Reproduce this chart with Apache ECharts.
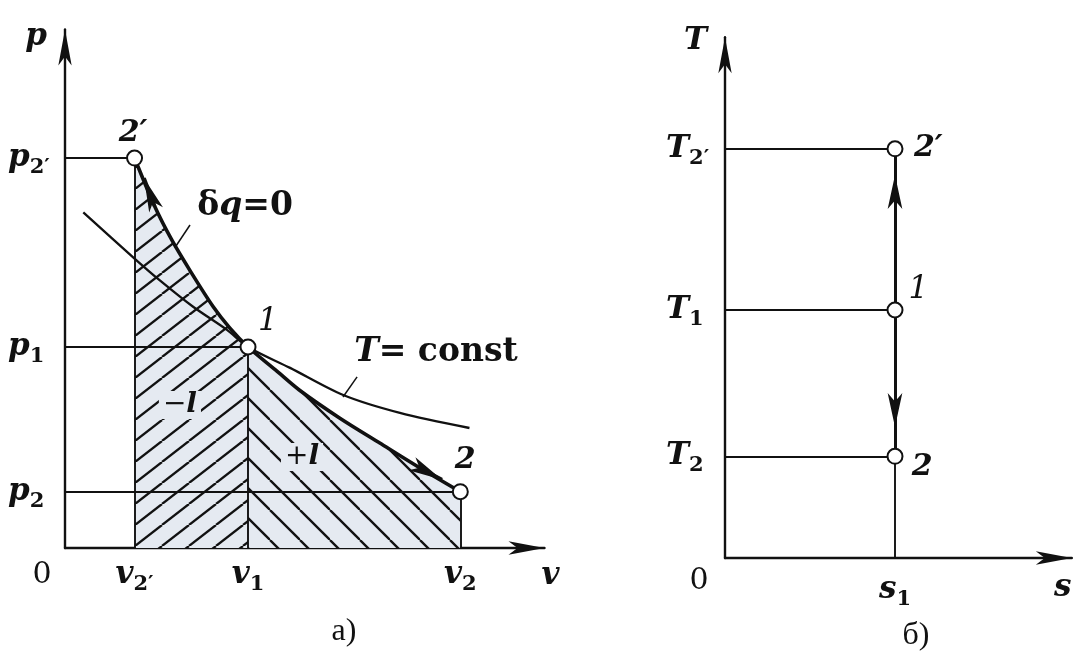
<!DOCTYPE html>
<html>
<head>
<meta charset="utf-8">
<script src="https://cdn.jsdelivr.net/npm/echarts@6/dist/echarts.min.js"></script>
<style>
  html, body { margin: 0; padding: 0; background: #ffffff; }
  #chart { width: 1089px; height: 654px; }
</style>
</head>
<body>
<div id="chart"></div>
<script>
// ---------- p–v diagram (а) ----------
// state values on the axes: 2', 1, 2
const vTicks = [0.38, 1.0, 2.16];
const pTicks = [1.94, 1.0, 0.28];
const stateSubs = ['2′', '1', '2'];
// adiabat δq = 0: 2' -> 1 and 1 -> 2
const adiabatUpper = [[0.38, 1.94], [0.49, 1.70], [0.585, 1.53], [0.69, 1.37], [0.81, 1.20], [0.90, 1.095], [1.0, 1.0]];
const adiabatLower = [[1.0, 1.0], [1.15, 0.886], [1.28, 0.786], [1.50, 0.647], [1.72, 0.522], [1.94, 0.398], [2.16, 0.28]];
// isotherm T = const through state 1
const isotherm = [[0.10, 1.67], [0.38, 1.44], [0.52, 1.33], [0.70, 1.20], [0.885, 1.085], [1.0, 1.0],
                  [1.23, 0.896], [1.52, 0.761], [1.83, 0.672], [2.21, 0.597]];
// arrowheads along the adiabat (segment start, arrowhead centre)
const pvArrows = [[[0.49, 1.70], [0.432, 1.84]], [[1.94, 0.398], [2.06, 0.34]]];
// leader lines from the curve captions
const pvLeaders = [[[0.683, 1.607], [0.601, 1.495]], [[1.596, 0.851], [1.519, 0.751]]];

// ---------- T–s diagram (б) ----------
const s1 = 1.0;
const TTicks = [1.65, 1.0, 0.41];
const tsArrows = [[[1.0, 1.0], [1.0, 1.544]], [[1.0, 1.0], [1.0, 0.528]]];

const INK = '#111111';
const FILL = '#e5eaf1';
const SERIF = 'DejaVu Serif';

function hatch(w, h, rising) {
  const c = document.createElement('canvas');
  c.width = w; c.height = h;
  const g = c.getContext('2d');
  g.fillStyle = FILL;
  g.fillRect(0, 0, w, h);
  g.strokeStyle = INK;
  g.lineWidth = 2.3;
  for (const dx of [-w, 0, w]) {
    g.beginPath();
    if (rising) { g.moveTo(dx, h); g.lineTo(dx + w, 0); }
    else { g.moveTo(dx, 0); g.lineTo(dx + w, h); }
    g.stroke();
  }
  return c;
}

const rich = {
  i: { fontFamily: SERIF, fontSize: 31, fontStyle: 'italic', fontWeight: 'bold', color: INK, lineHeight: 40 },
  s: { fontFamily: SERIF, fontSize: 21, fontWeight: 'bold', color: INK, lineHeight: 14, verticalAlign: 'bottom' },
  z: { fontFamily: SERIF, fontSize: 30, color: INK, lineHeight: 40, padding: [0, 46, 0, 0] },
  z2: { fontFamily: SERIF, fontSize: 30, color: INK, lineHeight: 22, padding: [0, 52, 0, 0] },
  n: { fontFamily: SERIF, fontSize: 33, fontWeight: 'bold', color: INK },
  m: { fontFamily: SERIF, fontSize: 33, fontStyle: 'italic', fontWeight: 'bold', color: INK },
  pt: { fontFamily: SERIF, fontSize: 30, fontStyle: 'italic', fontWeight: 'bold', color: INK },
  k: { fontFamily: SERIF, fontSize: 31, fontStyle: 'italic', color: INK },
  l: { fontFamily: SERIF, fontSize: 28, fontStyle: 'italic', fontWeight: 'bold', color: INK },
  o: { fontFamily: SERIF, fontSize: 28, color: INK }
};

function idx(list, v) { return list.findIndex(x => Math.abs(x - v) < 1e-9); }

function arrowAxisLine() {
  return {
    show: true,
    onZero: false,
    symbol: ['none', 'arrow'],
    symbolSize: [10, 36],
    lineStyle: { color: INK, width: 2.4 }
  };
}

const lineItems = pairs => pairs.map(c => ({ coords: c }));
// narrow arrowhead: [width, length] for the end symbol of a segment
const headSize = [[11, 34], [11, 34]];

const pvGuides = [
  [[0, pTicks[0]], [vTicks[0], pTicks[0]]],
  [[0, pTicks[1]], [vTicks[1], pTicks[1]]],
  [[0, pTicks[2]], [vTicks[2], pTicks[2]]],
  [[vTicks[0], 0], [vTicks[0], pTicks[0]]],
  [[vTicks[1], 0], [vTicks[1], pTicks[1]]],
  [[vTicks[2], 0], [vTicks[2], pTicks[2]]]
];
const tsGuides = TTicks.map(t => [[0, t], [s1, t]]).concat([[[s1, 0], [s1, TTicks[2]]]]);
const tsProcess = [[[s1, TTicks[2]], [s1, TTicks[0]]]];

const pvLabels = [
  { value: [0.372, 2.065], label: { formatter: '{pt|2′}' } },
  { value: [1.109, 1.124], label: { formatter: '{k|1}' } },
  { value: [2.186, 0.438], label: { formatter: '{pt|2}' } },
  { value: [0.984, 1.697], label: { formatter: '{n|δ}{m|q}{n|=0}' } },
  { value: [2.027, 0.975], label: { formatter: '{m|T}{n|= const}' } },
  { value: [0.628, 0.711], label: { formatter: '{o|−}{l|l}', backgroundColor: FILL, padding: [0, 4] } },
  { value: [1.295, 0.453], label: { formatter: '{o|+}{l|l}', backgroundColor: FILL, padding: [0, 4] } }
];
const tsLabels = [
  { value: [1.196, 1.653], label: { formatter: '{pt|2′}' } },
  { value: [1.137, 1.081], label: { formatter: '{k|1}' } },
  { value: [1.160, 0.367], label: { formatter: '{pt|2}' } }
];

const solid = { opacity: 1 };

const option = {
  animation: false,
  backgroundColor: '#ffffff',
  title: [
    { text: 'а)', left: 344, top: 616, textAlign: 'center', padding: 0,
      textStyle: { fontFamily: 'Liberation Serif', fontSize: 32, fontWeight: 'normal', color: INK } },
    { text: 'б)', left: 916, top: 620, textAlign: 'center', padding: 0,
      textStyle: { fontFamily: 'Liberation Serif', fontSize: 32, fontWeight: 'normal', color: INK } }
  ],
  grid: [
    { left: 65, top: 29.4, width: 479.5, height: 518.6, outerBoundsMode: 'none', containLabel: false },
    { left: 725, top: 37.2, width: 346.8, height: 520.8, outerBoundsMode: 'none', containLabel: false }
  ],
  xAxis: [
    {
      gridIndex: 0, type: 'value', min: 0, max: 2.62,
      axisLine: arrowAxisLine(), axisTick: { show: false }, splitLine: { show: false },
      axisLabel: {
        customValues: [0].concat(vTicks), margin: 7, verticalAlign: 'top', rich,
        formatter: v => v === 0 ? '{z|0}' : '{i|v}{s|' + stateSubs[idx(vTicks, v)] + '}'
      },
      name: 'v', nameLocation: 'end', nameGap: 6,
      nameTextStyle: { fontFamily: SERIF, fontSize: 31, fontStyle: 'italic', fontWeight: 'bold', color: INK,
        align: 'center', verticalAlign: 'top', lineHeight: 40, padding: [8, 0, 0, 0] }
    },
    {
      gridIndex: 1, type: 'value', min: 0, max: 2.04,
      axisLine: arrowAxisLine(), axisTick: { show: false }, splitLine: { show: false },
      axisLabel: {
        customValues: [0, s1], margin: 12, verticalAlign: 'top', rich,
        formatter: v => v === 0 ? '{z2|0}' : '{i|s}{s|1}'
      },
      name: 's', nameLocation: 'end', nameGap: -9,
      nameTextStyle: { fontFamily: SERIF, fontSize: 31, fontStyle: 'italic', fontWeight: 'bold', color: INK,
        align: 'center', verticalAlign: 'top', lineHeight: 40, padding: [10, 0, 0, 0] }
    }
  ],
  yAxis: [
    {
      gridIndex: 0, type: 'value', min: 0, max: 2.58,
      axisLine: arrowAxisLine(), axisTick: { show: false }, splitLine: { show: false },
      axisLabel: {
        customValues: pTicks, margin: 57, align: 'left', verticalAlign: 'middle', rich,
        formatter: v => '{i|p}{s|' + stateSubs[idx(pTicks, v)] + '}'
      },
      name: 'p', nameLocation: 'end', nameGap: -8,
      nameTextStyle: { fontFamily: SERIF, fontSize: 31, fontStyle: 'italic', fontWeight: 'bold', color: INK,
        align: 'right', verticalAlign: 'middle', padding: [0, 18, 0, 0] }
    },
    {
      gridIndex: 1, type: 'value', min: 0, max: 2.1,
      axisLine: arrowAxisLine(), axisTick: { show: false }, splitLine: { show: false },
      axisLabel: {
        customValues: TTicks, margin: 59, align: 'left', verticalAlign: 'middle', rich,
        formatter: v => '{i|T}{s|' + stateSubs[idx(TTicks, v)] + '}'
      },
      name: 'T', nameLocation: 'end', nameGap: -4,
      nameTextStyle: { fontFamily: SERIF, fontSize: 31, fontStyle: 'italic', fontWeight: 'bold', color: INK,
        align: 'right', verticalAlign: 'middle', padding: [0, 18, 0, 0] }
    }
  ],
  series: [
    // hatched work areas under the adiabat
    {
      type: 'line', xAxisIndex: 0, yAxisIndex: 0, z: 1, silent: true,
      data: adiabatUpper, smooth: 0.3, symbol: 'none',
      lineStyle: { width: 0 },
      areaStyle: { color: { image: hatch(27, 21, true), repeat: 'repeat' }, opacity: 1 }
    },
    {
      type: 'line', xAxisIndex: 0, yAxisIndex: 0, z: 1, silent: true,
      data: adiabatLower, smooth: 0.3, symbol: 'none',
      lineStyle: { width: 0 },
      areaStyle: { color: { image: hatch(30, 30, false), repeat: 'repeat' }, opacity: 1 }
    },
    // state guide lines
    {
      type: 'lines', coordinateSystem: 'cartesian2d', xAxisIndex: 0, yAxisIndex: 0, z: 3, silent: true,
      data: lineItems(pvGuides),
      lineStyle: { color: INK, width: 1.9, opacity: 1 }
    },
    // isotherm
    {
      type: 'line', xAxisIndex: 0, yAxisIndex: 0, z: 4, silent: true,
      data: isotherm, smooth: 0.3, symbol: 'none',
      lineStyle: { color: INK, width: 2.3 }
    },
    // adiabat
    {
      type: 'line', xAxisIndex: 0, yAxisIndex: 0, z: 5, silent: true,
      data: adiabatUpper.concat(adiabatLower.slice(1)), smooth: 0.3, symbol: 'none',
      lineStyle: { color: INK, width: 3.6 }
    },
    {
      type: 'lines', coordinateSystem: 'cartesian2d', xAxisIndex: 0, yAxisIndex: 0, z: 6, silent: true,
      data: lineItems(pvArrows), symbol: ['none', 'arrow'], symbolSize: headSize,
      lineStyle: { color: INK, width: 3.6, opacity: 1 }
    },
    {
      type: 'lines', coordinateSystem: 'cartesian2d', xAxisIndex: 0, yAxisIndex: 0, z: 6, silent: true,
      data: lineItems(pvLeaders),
      lineStyle: { color: INK, width: 1.5, opacity: 1 }
    },
    // states
    {
      type: 'scatter', xAxisIndex: 0, yAxisIndex: 0, z: 8, silent: true,
      data: vTicks.map((v, i) => [v, pTicks[i]]), symbol: 'circle', symbolSize: 15,
      itemStyle: { color: '#ffffff', borderColor: INK, borderWidth: 2, opacity: 1 }
    },
    {
      type: 'scatter', xAxisIndex: 0, yAxisIndex: 0, z: 9, silent: true,
      data: pvLabels, symbolSize: 0, itemStyle: solid,
      label: { show: true, position: 'inside', align: 'center', verticalAlign: 'middle', opacity: 1, rich }
    },

    // T–s diagram
    {
      type: 'lines', coordinateSystem: 'cartesian2d', xAxisIndex: 1, yAxisIndex: 1, z: 3, silent: true,
      data: lineItems(tsGuides),
      lineStyle: { color: INK, width: 1.9, opacity: 1 }
    },
    {
      type: 'lines', coordinateSystem: 'cartesian2d', xAxisIndex: 1, yAxisIndex: 1, z: 5, silent: true,
      data: lineItems(tsProcess),
      lineStyle: { color: INK, width: 3, opacity: 1 }
    },
    {
      type: 'lines', coordinateSystem: 'cartesian2d', xAxisIndex: 1, yAxisIndex: 1, z: 6, silent: true,
      data: lineItems(tsArrows), symbol: ['none', 'arrow'], symbolSize: headSize,
      lineStyle: { color: INK, width: 3, opacity: 1 }
    },
    {
      type: 'scatter', xAxisIndex: 1, yAxisIndex: 1, z: 8, silent: true,
      data: TTicks.map(t => [s1, t]), symbol: 'circle', symbolSize: 15,
      itemStyle: { color: '#ffffff', borderColor: INK, borderWidth: 2, opacity: 1 }
    },
    {
      type: 'scatter', xAxisIndex: 1, yAxisIndex: 1, z: 9, silent: true,
      data: tsLabels, symbolSize: 0, itemStyle: solid,
      label: { show: true, position: 'inside', align: 'center', verticalAlign: 'middle', opacity: 1, rich }
    }
  ]
};

const chart = echarts.init(document.getElementById('chart'));
chart.setOption(option);
</script>
</body>
</html>
